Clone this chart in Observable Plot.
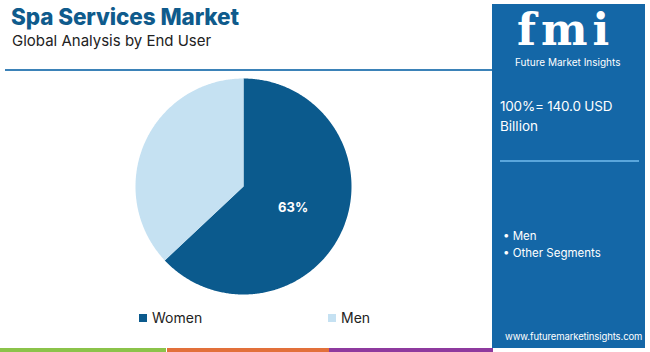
<!DOCTYPE html>
<html><head><meta charset="utf-8">
<script src="https://cdn.jsdelivr.net/npm/d3@7"></script>
<script src="https://cdn.jsdelivr.net/npm/@observablehq/plot@0.6"></script>
<style>
html,body{margin:0;padding:0;background:#fff;}
#root{position:relative;width:650px;height:352px;overflow:hidden;font-family:Inter,"Open Sans",sans-serif;}
.abs{position:absolute;white-space:nowrap;}
</style></head>
<body><div id="root"></div>
<script>
const categories = ["Women", "Men"];
const shares = [63, 37];
const sliceColors = ["#0b5a8d", "#c5e1f2"];
const title = "Spa Services Market";
const subtitle = "Global Analysis by End User";
const totalLabel = ["100%= 140.0 USD", "Billion"];
const panelItems = ["Men", "Other Segments"];

const root = document.getElementById("root");
function add(html, style){const d=document.createElement("div");d.className="abs";d.innerHTML=html;Object.assign(d.style,style);root.appendChild(d);return d;}

// header
add(title,{left:"11px",top:"3px",fontSize:"22.5px",fontWeight:"800",color:"#0f5b8c",letterSpacing:"-0.1px"});
add(subtitle,{left:"12px",top:"31px",fontSize:"15px",color:"#222"});
add("",{left:"5px",top:"69px",width:"487px",height:"2px",background:"#3b82b8"});

// right panel
add("",{left:"492px",top:"4px",width:"153px",height:"344px",background:"#1467a7"});
add("fmi",{left:"517px",top:"8px",fontSize:"44px",fontWeight:"900",color:"#fff",fontFamily:"'DejaVu Serif',serif",letterSpacing:"5px",lineHeight:"44px"});
add("Future Market Insights",{left:"515px",top:"56px",fontSize:"10px",color:"#fff",lineHeight:"12px"});
add(totalLabel[0],{left:"500px",top:"98px",fontSize:"13.5px",color:"#fff",letterSpacing:"-0.2px"});
add(totalLabel[1],{left:"500px",top:"118px",fontSize:"13.5px",color:"#fff"});
add("",{left:"500px",top:"160px",width:"139px",height:"2px",background:"#5aa6dc"});
panelItems.forEach((t,i)=>add("• "+t,{left:"503px",top:(229+i*17)+"px",fontSize:"11.5px",color:"#fff"}));
add("www.futuremarketinsights.com",{left:"505px",top:"331px",fontSize:"9.5px",color:"#fff",letterSpacing:"-0.1px"});

// bottom bars
add("",{left:"0px",top:"348px",width:"166px",height:"4px",background:"#8bc34a"});
add("",{left:"167px",top:"348px",width:"162px",height:"4px",background:"#e2703a"});
add("",{left:"329px",top:"348px",width:"164px",height:"4px",background:"#8e3a9e"});

// pie via Plot: polygons built from d3.pie angles of the data
const total = d3.sum(shares);
const arcs = d3.pie().sort(null).value(d=>d)(shares);
const polys = [];
arcs.forEach((a,i)=>{
  const n = Math.max(4, Math.ceil((a.endAngle-a.startAngle)/0.01));
  polys.push({cat:categories[i], x:0, y:0});
  for(let j=0;j<=n;j++){
    const t = a.startAngle + (a.endAngle-a.startAngle)*j/n;
    polys.push({cat:categories[i], x:Math.sin(t), y:Math.cos(t)});
  }
});
const labels = arcs.filter((a,i)=>i===0).map(a=>{
  const m=(a.startAngle+a.endAngle)/2;
  return {x:0.5*Math.sin(m), y:0.5*Math.cos(m), text: Math.round(shares[0]/total*100)+"%"};
});

const plot = Plot.plot({
  width: 490, height: 226,
  marginLeft: 135, marginRight: 139, marginTop: 6, marginBottom: 4,
  x: {domain:[-1,1], axis:null},
  y: {domain:[-1,1], axis:null},
  color: {domain: categories, range: sliceColors},
  style: {background:"transparent", overflow:"visible"},
  marks: [
    Plot.line(polys, {x:"x", y:"y", z:"cat", fill:"cat", stroke:"none", curve:"linear"}),
    Plot.text(labels, {x:"x", y:"y", text:"text", fill:"#fff", fontSize:13, fontWeight:"bold", fontFamily:"Inter,sans-serif"})
  ]
});
plot.style.position="absolute"; plot.style.left="0px"; plot.style.top="72px";
root.appendChild(plot);

// legend
categories.forEach((c,i)=>{
  const x = [139, 328][i];
  add("",{left:x+"px",top:"314px",width:"8px",height:"8px",background:sliceColors[i]});
  add(c,{left:(x+13)+"px",top:"309px",fontSize:"14px",color:"#222"});
});
</script></body></html>
